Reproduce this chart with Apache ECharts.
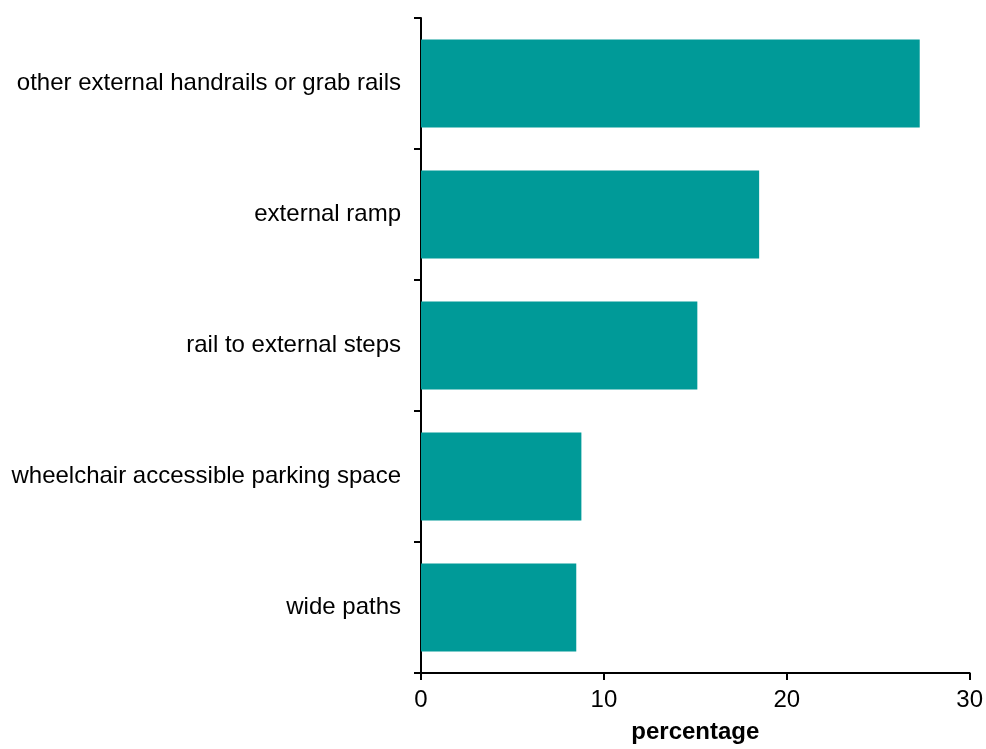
<!DOCTYPE html>
<html>
<head>
<meta charset="utf-8">
<script src="https://cdn.jsdelivr.net/npm/echarts@6/dist/echarts.min.js"></script>
<style>html,body{margin:0;padding:0;background:#fff}#c{width:986px;height:749px}</style>
</head>
<body>
<div id="c"></div>
<script>
var categories = ["other external handrails or grab rails", "external ramp", "rail to external steps", "wheelchair accessible parking space", "wide paths"];
var values = [27.27, 18.49, 15.11, 8.77, 8.49];
var xTicks = [0, 10, 20, 30];
var xName = "percentage";

var chart = echarts.init(document.getElementById('c'));
chart.setOption({
  animation: false,
  backgroundColor: '#fff',
  grid: {left: 421, right: 15, top: 18, bottom: 70, containLabel: false},
  xAxis: {
    type: 'value', min: xTicks[0], max: xTicks[xTicks.length - 1], interval: 10,
    name: xName, nameLocation: 'middle', nameGap: 47,
    nameTextStyle: {fontFamily: 'Liberation Sans', fontSize: 24, fontWeight: 'bold', color: '#000'},
    axisLine: {show: true, lineStyle: {color: '#000', width: 2}},
    axisTick: {show: true, length: 7, lineStyle: {color: '#000', width: 2}},
    axisLabel: {fontFamily: 'Liberation Sans', fontSize: 24, color: '#000', margin: 15},
    splitLine: {show: false}
  },
  yAxis: {
    type: 'category', data: categories, inverse: true,
    axisLine: {show: true, lineStyle: {color: '#000', width: 2}},
    axisTick: {show: true, length: 7, lineStyle: {color: '#000', width: 2}},
    axisLabel: {fontFamily: 'Liberation Sans', fontSize: 24, color: '#000', margin: 20}
  },
  series: [{
    type: 'bar', data: values, barCategoryGap: '33%',
    itemStyle: {color: '#009a98'}
  }]
});
</script>
</body>
</html>
